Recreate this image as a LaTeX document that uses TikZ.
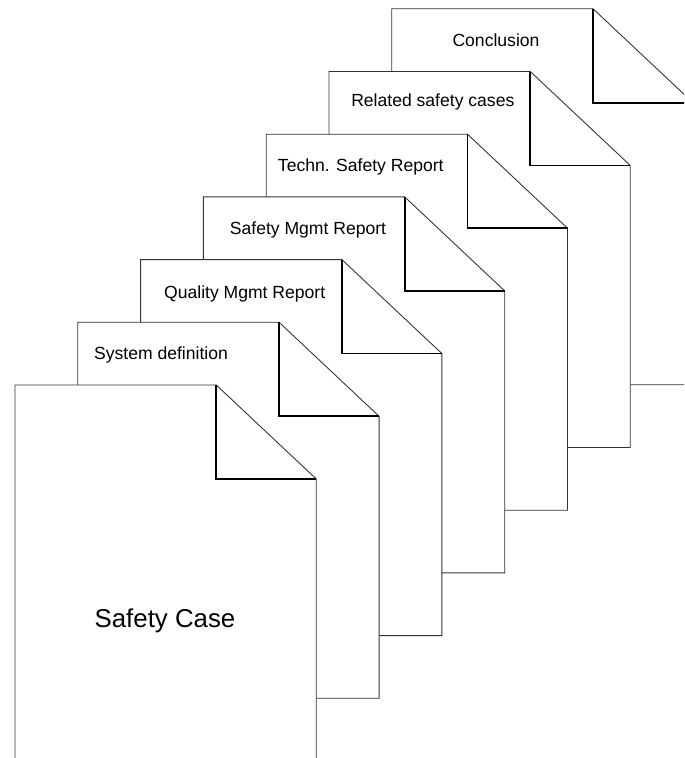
\documentclass[tikz,border=0pt]{standalone}
\usepackage{fontspec}
\setmainfont{Liberation Sans}
\usepackage{tikz}
\usetikzlibrary{positioning,calc}

\begin{document}
\begin{tikzpicture}[x=0.02cm,y=-0.02cm,
    sheet/.style={fill=white,draw=black!80,line width=0.5pt,line join=miter},
    fold/.style={draw=black,line width=1pt},
    label/.style={anchor=base,inner sep=0pt,font=\fontsize{10}{12}\selectfont}]
    \clip (0,0) rectangle (684,758);
    % Sheets, back to front
    \foreach \i in {6,5,...,0} {
        \pgfmathsetmacro\L{15+62.8*\i}
        \pgfmathsetmacro\T{385-62.7*\i}
        \filldraw[sheet] (\L,\T) -- ++(201.3,0) -- ++(100,94) -- ++(0,282) -- ++(-301.3,0) -- cycle;
        \draw[fold] (\L+201.3,\T) -- ++(0,94) -- ++(100,0);
    }
    % Titles
    \node[label] (conclusion) at (496,46) {Conclusion};
    \node[label] (related) at (432.8,106.3) {Related safety cases};
    \node[label] (techn) at (360.8,171) {Techn. Safety Report};
    \node[label] (safetymgmt) at (308,234) {Safety Mgmt Report};
    \node[label] (quality) at (244.7,298) {Quality Mgmt Report};
    \node[label] (sysdef) at (161,359.3) {System definition};
    \node[anchor=base,inner sep=0pt,font=\fontsize{14.7}{17}\selectfont] (safetycase) at (165,627.3) {Safety Case};
\end{tikzpicture}
\end{document}
